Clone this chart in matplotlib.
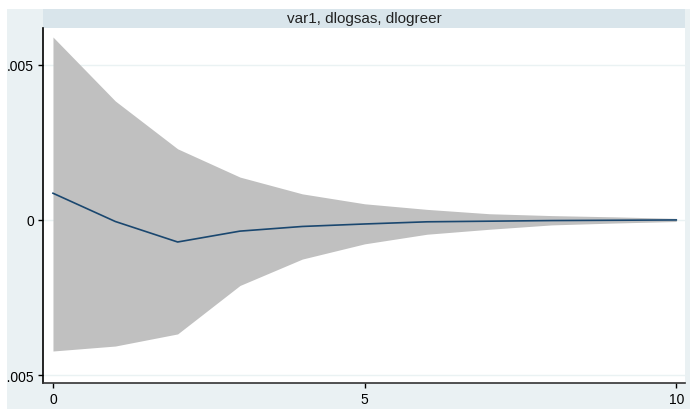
import numpy as np
import matplotlib.pyplot as plt
from matplotlib.patches import Rectangle

# impulse response
step = [0, 1, 2, 3, 4, 5, 6, 7, 8, 9, 10]
irf = [0.00086, -0.00005, -0.00071, -0.00036, -0.00021, -0.00013,
       -0.00006, -0.00004, -0.00002, -0.00001, 0.0]
ci_upper = [0.00589, 0.00383, 0.00229, 0.00138, 0.00084, 0.00052,
            0.00034, 0.0002, 0.00014, 0.0001, 0.00005]
ci_lower = [-0.00422, -0.00406, -0.00367, -0.00211, -0.00126, -0.00077,
            -0.00046, -0.0003, -0.00016, -0.0001, -0.00005]
panel_title = "var1, dlogsas, dlogreer"
yticks = [-0.005, 0, 0.005]
yticklabels = ["-.005", "0", ".005"]
xticks = [0, 5, 10]

W, H = 690, 410
fig = plt.figure(figsize=(W / 100, H / 100), dpi=100)
fig.patch.set_facecolor("white")

plt.rcParams["font.family"] = ["Liberation Sans", "DejaVu Sans"]


def fx(px):
    return px / W


def fy(py):
    return 1 - py / H


# graph region background (cropped screenshot starts a few px in)
bg = Rectangle((fx(7), 0), 1 - fx(7), fy(10), transform=fig.transFigure,
               facecolor="#eaf1f3", edgecolor="none", zorder=0)
fig.patches.append(bg)

# cut-off caption above the graph, only the descenders show
fig.text(fx(8), 1 + 6.5 / H, "Figure 4: Impulse response function",
         fontfamily="Liberation Serif", fontweight="bold", fontsize=24.5,
         ha="left", va="baseline", color="black")

ax = fig.add_axes([fx(43), fy(384), fx(685) - fx(43), fy(29) - fy(384)])
ax.set_facecolor("white")
ax.set_zorder(2)

# subtitle strip
strip = Rectangle((fx(43), fy(29)), fx(685) - fx(43), fy(10) - fy(29),
                  transform=fig.transFigure, facecolor="#d9e5eb",
                  edgecolor="none", zorder=1)
fig.patches.append(strip)
fig.text((fx(43) + fx(685)) / 2, (fy(10) + fy(29)) / 2, panel_title,
         ha="center", va="center", fontsize=11, color="#222222", zorder=3)

ax.fill_between(step, ci_lower, ci_upper, color="#c0c0c0", linewidth=0,
                zorder=2)
ax.plot(step, irf, color="#1a476f", linewidth=1.2, zorder=3)

ax.set_xlim(-0.16, 10.14)
ax.set_ylim(-0.00525, 0.00618)
ax.set_xticks(xticks)
ax.set_xticklabels([str(v) for v in xticks])
ax.set_yticks(yticks)
ax.set_yticklabels(yticklabels)
ax.grid(axis="y", color="#eaf2f3", linewidth=1.0, zorder=1)
ax.grid(axis="x", visible=False)
ax.set_axisbelow(True)

for side in ["top", "right"]:
    ax.spines[side].set_visible(False)
ax.spines["left"].set_color("black")
ax.spines["left"].set_linewidth(1.2)
ax.spines["bottom"].set_color("#333333")
ax.spines["bottom"].set_linewidth(1.2)
# tick sizes are in points: ~5 px ticks, ~4 px gap
ax.tick_params(axis="both", direction="out", length=3.6, width=1,
               labelsize=10, colors="black", pad=2.8)

# the left edge of the screenshot cuts the minus sign off
for lbl in ax.get_yticklabels():
    lbl.set_clip_path(bg)

fig.savefig("out.png", dpi=100)
